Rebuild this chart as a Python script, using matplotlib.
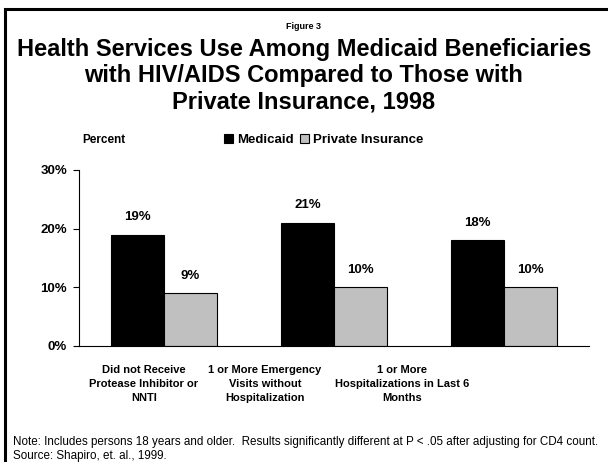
import matplotlib
matplotlib.use("Agg")
import matplotlib.pyplot as plt
from matplotlib.patches import Rectangle
import numpy as np

plt.rcParams["font.family"] = ["Liberation Sans", "DejaVu Sans"]

# Data
categories = [
    "Did not Receive\nProtease Inhibitor or\nNNTI",
    "1 or More Emergency\nVisits without\nHospitalization",
    "1 or More\nHospitalizations in Last 6\nMonths",
]
medicaid = [19, 21, 18]
private_ins = [9, 10, 10]
series_names = ["Medicaid", "Private Insurance"]
yticks = [0, 10, 20, 30]

# Styling
BLACK = "#000000"
GREY = "#c0c0c0"
BAR_W = 0.312

fig = plt.figure(figsize=(6.08, 4.62), dpi=100)
fig.patch.set_facecolor("white")

# Outer frame (runs off the right and bottom edges)
fig.patches.append(Rectangle((0.0082, -0.05), 1.1, 1.03, transform=fig.transFigure,
                             facecolor="none", edgecolor=BLACK, linewidth=2.2))

# Titles
fig.text(0.5, 0.942, "Figure 3", ha="center", va="center", fontsize=6.5, fontweight="bold")
title = ("Health Services Use Among Medicaid Beneficiaries\n"
         "with HIV/AIDS Compared to Those with\n"
         "Private Insurance, 1998")
fig.text(0.5, 0.836, title, ha="center", va="center", fontsize=17, fontweight="bold",
         linespacing=1.2)

ax = fig.add_axes([0.13, 0.2511, 0.839, 0.381])
x = np.arange(len(categories))
b1 = ax.bar(x - BAR_W / 2, medicaid, BAR_W, color=BLACK, edgecolor=BLACK, linewidth=0.8,
            label=series_names[0])
b2 = ax.bar(x + BAR_W / 2, private_ins, BAR_W, color=GREY, edgecolor=BLACK, linewidth=0.8,
            label=series_names[1])

for bars, vals in ((b1, medicaid), (b2, private_ins)):
    for rect, v in zip(bars, vals):
        ax.annotate(f"{v}%", (rect.get_x() + rect.get_width() / 2, v),
                    xytext=(0, 12.6), textcoords="offset points", ha="center", va="center",
                    fontsize=9.5, fontweight="bold")

ax.set_xlim(-0.5, len(categories) - 0.5)
ax.set_ylim(0, 30)
ax.set_yticks(yticks)
ax.set_yticklabels([f"{t}%" for t in yticks], fontsize=9.5, fontweight="bold")
ax.tick_params(axis="y", direction="out", length=4.5, width=0.8, pad=4)
ax.set_xticks([])
for s in ("top", "right"):
    ax.spines[s].set_visible(False)
for s in ("left", "bottom"):
    ax.spines[s].set_linewidth(0.8)

# Category labels sit left of their groups
label_x = [-0.118, 0.594, 1.4]
for lx, lab in zip(label_x, categories):
    ax.text(lx, -0.11, lab, transform=ax.get_xaxis_transform(), ha="center", va="top",
            fontsize=8, fontweight="bold", linespacing=1.45)

fig.text(0.135, 0.697, "Percent", ha="left", va="center", fontsize=8.5, fontweight="bold")
leg = fig.legend(handles=[b1, b2], loc="center left", bbox_to_anchor=(0.368, 0.697),
                 ncol=2, frameon=False, fontsize=9.5, handlelength=0.7, handleheight=0.7,
                 handletextpad=0.3, columnspacing=0.5, borderaxespad=0, borderpad=0)
for t in leg.get_texts():
    t.set_fontweight("bold")

fig.text(0.021, 0.028, "Note: Includes persons 18 years and older.  Results significantly "
         "different at P < .05 after adjusting for CD4 count.\nSource: Shapiro, et. al., 1999.",
         ha="left", va="center", fontsize=8.4, linespacing=1.15)

fig.savefig("out.png", dpi=100, facecolor="white")
